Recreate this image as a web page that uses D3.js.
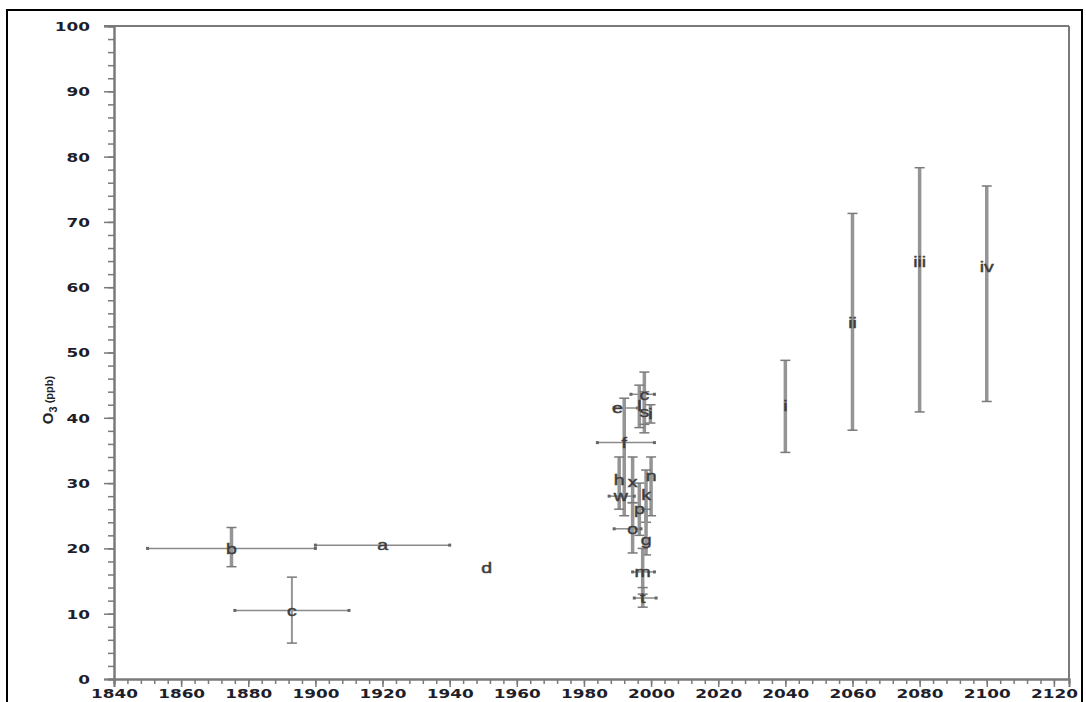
<!DOCTYPE html>
<html>
<head>
<meta charset="utf-8">
<script src="https://cdn.jsdelivr.net/npm/d3@7"></script>
<style>
  html, body { margin: 0; padding: 0; background: #fff; }
  svg { display: block; }
</style>
</head>
<body>
<svg id="chart" width="1086" height="702"></svg>
<script>
// Ozone estimates (ppb): historical, present-day cluster and future scenarios
const labels  = ["b", "a", "c", "d",
                 "e", "c", "l", "s", "i", "f", "h", "x", "n", "w", "k", "p", "o", "g", "m", "t",
                 "i", "ii", "iii", "iv"];
const years   = [1875, 1920, 1893, 1951,
                 1990, 1998, 1996.5, 1998, 1999.8, 1992, 1990.5, 1994.5, 2000, 1991, 1998.5, 1996.5, 1994.5, 1998.5, 1997.5, 1997.5,
                 2040, 2060, 2080, 2100];
const ozone   = [20, 20.5, 10.5, 17,
                 41.5, 43.6, 41.8, 41, 40.6, 36.2, 30.5, 30.2, 31.2, 28, 28.2, 26, 23, 21.3, 16.4, 12.4,
                 41.8, 54.6, 63.9, 63.1];
const yearLow  = [1850, 1900, 1876, null,
                  1989, 1994, null, null, null, 1984, null, null, null, 1987.5, null, null, 1989, null, 1994.5, 1995,
                  null, null, null, null];
const yearHigh = [1900, 1940, 1910, null,
                  1996, 2001, null, null, null, 2001, null, null, null, 1995, null, null, 1997, null, 2001, 2001.5,
                  null, null, null, null];
const ozoneLow  = [17.2, null, 5.5, null,
                   null, 37.7, 38.5, 39, 39.2, 25, 26, 27, 25, null, 24, 22, 19.3, 19, 13, 11,
                   34.7, 38.1, 40.9, 42.5];
const ozoneHigh = [23.2, null, 15.6, null,
                   null, 47, 45, 44, 42, 43, 34, 34, 34, null, 32, 30, 27, 26, 20, 14,
                   48.8, 71.3, 78.3, 75.5];

const xTickValues = d3.range(1840, 2121, 20);
const yTickValues = d3.range(0, 101, 10);

const svg = d3.select("#chart");
const x = d3.scaleLinear().domain([1840, 2124.5]).range([114, 1069]);
const y = d3.scaleLinear().domain([0, 100]).range([679, 26]);

const axisGrey = "#7a7a7a";
const barGrey = "#959595";
const stretch = 1.3; // glyphs are drawn wide

// outer frame
svg.append("rect")
  .attr("x", 7).attr("y", 10)
  .attr("width", 1075).attr("height", 700)
  .attr("fill", "none").attr("stroke", "#000").attr("stroke-width", 2);

// plot box: top and right edges
svg.append("line")
  .attr("x1", x(1840) - 10).attr("x2", x(2124.5))
  .attr("y1", y(100)).attr("y2", y(100))
  .attr("stroke", axisGrey).attr("stroke-width", 2);
svg.append("line")
  .attr("x1", x(2124.5)).attr("x2", x(2124.5))
  .attr("y1", y(100)).attr("y2", y(0))
  .attr("stroke", axisGrey).attr("stroke-width", 2);

// minor ticks
const yMinor = svg.append("g").attr("transform", `translate(${x(1840)},0)`)
  .call(d3.axisLeft(y).tickValues(d3.range(0, 101, 2)).tickSize(6).tickFormat(""));
const xMinor = svg.append("g").attr("transform", `translate(0,${y(0)})`)
  .call(d3.axisBottom(x).tickValues(d3.range(1840, 2124, 4)).tickSize(5).tickFormat(""));

// major axes
const yAxis = svg.append("g").attr("transform", `translate(${x(1840)},0)`)
  .call(d3.axisLeft(y).tickValues(yTickValues).tickSize(10).tickPadding(0).tickFormat(d3.format("d")));
const xAxis = svg.append("g").attr("transform", `translate(0,${y(0)})`)
  .call(d3.axisBottom(x).tickValues(xTickValues).tickSize(8).tickPadding(0).tickFormat(d3.format("d")));

[yMinor, xMinor, yAxis, xAxis].forEach(g => {
  g.selectAll("path.domain").attr("stroke", axisGrey).attr("stroke-width", 2);
  g.selectAll(".tick line").attr("stroke", axisGrey).attr("stroke-width", 1.5);
});

yAxis.selectAll(".tick text")
  .attr("x", -24 / stretch).attr("dy", "0.34em")
  .attr("transform", `scale(${stretch},1)`)
  .attr("font-family", "DejaVu Sans").attr("font-weight", "bold")
  .attr("font-size", 13).attr("fill", "#1e1e2a");
xAxis.selectAll(".tick text")
  .attr("y", 14).attr("dy", "0.36em")
  .attr("transform", `scale(${stretch},1)`)
  .attr("font-family", "DejaVu Sans").attr("font-weight", "bold")
  .attr("font-size", 13).attr("fill", "#1e1e2a");

// y-axis title
const title = svg.append("text")
  .attr("transform", `translate(53,400) rotate(-90)`)
  .attr("text-anchor", "middle")
  .attr("font-family", "Liberation Sans").attr("font-weight", "bold")
  .attr("fill", "#222");
title.append("tspan").attr("font-size", 15).text("O");
title.append("tspan").attr("font-size", 11).attr("dy", 4).text("3");
title.append("tspan").attr("font-size", 11).attr("dy", -4).text(" (ppb)");

// error bars and labels
const points = labels.map((lab, i) => ({
  lab, yr: years[i], v: ozone[i],
  x0: yearLow[i], x1: yearHigh[i], y0: ozoneLow[i], y1: ozoneHigh[i]
}));
const thinBars = new Set([2]);

const marks = svg.append("g");
points.forEach((p, i) => {
  const g = marks.append("g");
  if (p.x0 !== null) {
    g.append("line")
      .attr("x1", x(p.x0)).attr("x2", x(p.x1))
      .attr("y1", y(p.v)).attr("y2", y(p.v))
      .attr("stroke", "#8a8a8a").attr("stroke-width", 1.5);
    [p.x0, p.x1].forEach(e => {
      g.append("rect")
        .attr("x", x(e) - 1.5).attr("y", y(p.v) - 1.5)
        .attr("width", 3).attr("height", 3)
        .attr("fill", "#666");
    });
  }
  if (p.y0 !== null) {
    g.append("line")
      .attr("x1", x(p.yr)).attr("x2", x(p.yr))
      .attr("y1", y(p.y0)).attr("y2", y(p.y1))
      .attr("stroke", barGrey).attr("stroke-width", thinBars.has(i) ? 2 : 3.5);
    [p.y0, p.y1].forEach(e => {
      g.append("line")
        .attr("x1", x(p.yr) - 5).attr("x2", x(p.yr) + 5)
        .attr("y1", y(e)).attr("y2", y(e))
        .attr("stroke", "#7a7a7a").attr("stroke-width", 1.5);
    });
  }
});

// point labels on top
points.forEach(p => {
  marks.append("text")
    .attr("transform", `translate(${x(p.yr)},${y(p.v)}) scale(${stretch},1)`)
    .attr("text-anchor", "middle").attr("dy", "0.35em")
    .attr("font-family", "Liberation Sans").attr("font-size", 15)
    .attr("fill", "#3a3a3a").attr("stroke", "#444").attr("stroke-width", 0.5)
    .text(p.lab);
});
</script>
</body>
</html>
